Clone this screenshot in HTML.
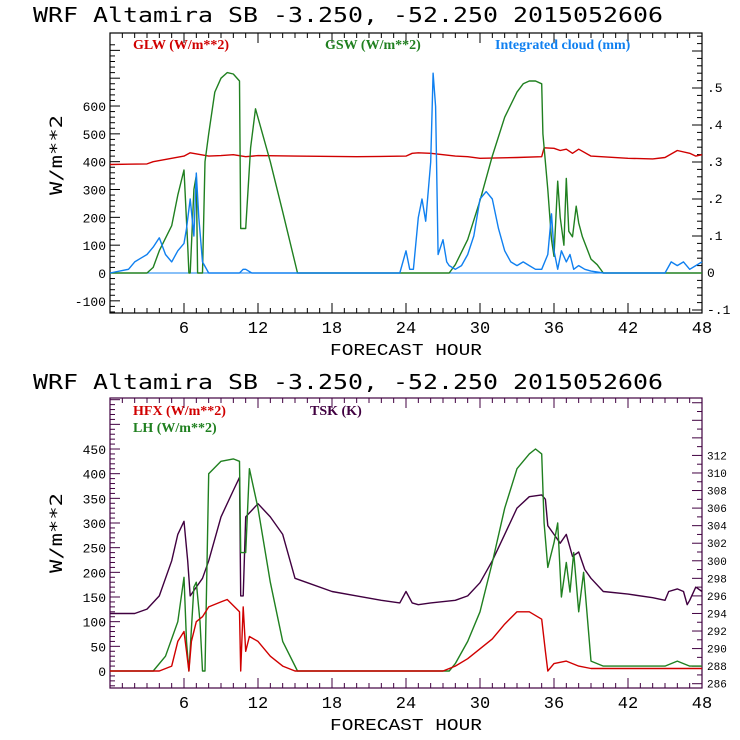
<!DOCTYPE html>
<html><head><meta charset="utf-8"><style>
html,body{margin:0;padding:0;background:#fff}
svg{display:block}
text{font-family:"Liberation Mono",monospace}
</style></head><body>
<svg id="chart" width="740" height="740" viewBox="0 0 740 740" xmlns="http://www.w3.org/2000/svg"></svg>
<script>
// ---------- data ----------
const xTicks=[6,12,18,24,30,36,42,48];
const topLeftTicks=[-100,0,100,200,300,400,500,600];
const topRightTicks=[-0.1,0,0.1,0.2,0.3,0.4,0.5];
const topRightLabels=["-.1","0",".1",".2",".3",".4",".5"];
const botLeftTicks=[0,50,100,150,200,250,300,350,400,450];
const botRightTicks=[286,288,290,292,294,296,298,300,302,304,306,308,310,312];

const glwHours=[0,3,3.5,6,6.5,8,9,10,11,12,15,20,24,24.5,25,26,27,28,29,30,33,35,35.2,36,36.5,37,37.5,38,39,42,44,45,46,47,47.5,48];
const glwVals=[390,392,400,420,432,420,422,425,418,422,420,418,420,430,432,430,425,420,418,412,415,418,450,448,440,445,430,445,420,412,410,415,440,430,420,425];

const gswHours=[0,3,3.5,4,5,5.5,6,6.3,6.4,6.5,6.8,7,7.1,7.5,7.7,8,8.5,9,9.5,10,10.5,10.6,11,11.4,11.8,13,14,15.2,27.5,28,29,30,31,32,33,33.5,34,34.5,35,35.1,35.5,35.8,36,36.3,36.5,36.8,37,37.2,37.5,37.8,38,38.3,39,39.5,40,48];
const gswVals=[0,0,20,80,170,280,370,100,0,0,300,350,0,0,400,500,650,700,720,715,690,160,160,450,590,400,220,0,0,30,120,260,420,560,650,680,690,690,680,500,300,120,60,330,200,100,340,150,130,240,180,130,50,30,0,0];

const cloudHours=[0,1.5,2,2.5,3,3.5,4,4.5,5,5.5,6,6.2,6.5,6.8,7,7.2,7.5,8,10.5,10.8,11,11.5,23.5,24,24.3,24.6,25,25.3,25.6,26,26.2,26.4,26.6,27,27.3,27.5,28,28.5,29,29.5,30,30.5,31,31.5,32,32.5,33,33.5,34,34.5,35,35.5,35.8,36,36.3,36.6,37,37.3,37.6,38,38.5,39,40,45,45.5,46,46.5,47,47.5,48];
const cloudVals=[0,0.01,0.03,0.04,0.05,0.07,0.095,0.05,0.03,0.06,0.08,0.12,0.2,0.1,0.27,0.15,0.03,0,0,0.01,0.01,0,0,0.06,0.01,0.01,0.15,0.2,0.14,0.3,0.54,0.45,0.05,0.09,0.03,0.02,0.01,0.02,0.05,0.1,0.2,0.22,0.2,0.12,0.06,0.03,0.02,0.03,0.02,0.01,0.01,0.05,0.16,0.06,0.01,0.06,0.03,0.05,0.01,0.02,0.01,0.005,0,0,0.03,0.02,0.03,0.01,0.02,0.03];

const hfxHours=[0,4,5,5.5,6,6.2,6.4,6.6,7,7.5,8,9,9.5,10.5,10.6,10.8,11,11.3,12,13,14,15,27,28,29,30,31,32,33,34,35,35.3,35.5,36,37,38,39,48];
const hfxVals=[0,0,10,60,80,40,0,60,100,110,130,140,145,120,0,130,40,70,60,30,10,0,0,10,25,45,65,95,120,120,105,40,0,15,20,10,5,5];

const lhHours=[0,3.5,4.5,5.5,6,6.2,6.4,6.8,7,7.3,7.5,7.7,8,9,10,10.5,10.6,11,11.3,12,13,14,15.2,27.5,28,29,30,31,32,33,34,34.5,35,35.2,35.5,36,36.3,36.6,37,37.3,37.6,38,38.4,39,40,45,46,46.5,47,48];
const lhVals=[0,0,30,100,190,60,0,170,180,100,0,0,400,425,430,425,240,240,410,330,180,60,0,0,15,60,120,220,330,410,440,450,440,300,210,260,300,150,220,160,240,120,200,20,10,10,20,15,10,10];

const tskHours=[0,2,3,4,5,5.5,6,6.3,6.5,7,7.5,8,9,10,10.5,10.6,10.8,11,12,13,14,15,16,18,20,22,23.5,24,24.5,25,26,28,29,30,31,32,33,34,35,35.3,35.5,36,36.5,37,37.5,38,38.5,39,40,42,44,45,45.3,46,46.5,46.8,47,47.5,48];
const tskVals=[294,294,294.5,296,300,303,304.5,300,296,297,298,300,305,308,309.5,296,296,305,306.5,305,303,298,297.5,296.5,296,295.5,295.2,296.5,295.2,295,295.2,295.5,296,297.5,300,303,306,307.3,307.5,307,304,303,302,303,300.5,301,299,298,296.5,296.2,295.8,295.5,296.5,296.8,296.5,295,295.5,297,296.5];

// ---------- drawing ----------
const svg=document.getElementById('chart');
const NS='http://www.w3.org/2000/svg';
function mk(tag,attrs,parent){const e=document.createElementNS(NS,tag);for(const k in attrs)e.setAttribute(k,attrs[k]);(parent||svg).appendChild(e);return e;}

function panel(o){
  const g=mk('g',{});
  
  
  const X=h=>o.x0+(h/48)*(o.x1-o.x0);
  const t=mk('text',{x:33,y:o.titleY,'font-size':20,fill:'#000',textLength:630,lengthAdjust:'spacingAndGlyphs',style:'font-family:"DejaVu Sans Mono",monospace;font-weight:200'},g);
  t.textContent='WRF   Altamira   SB   -3.250, -52.250   2015052606';
  
  
  const fr=mk('rect',{x:o.x0,y:o.y0,width:o.x1-o.x0,height:o.y1-o.y0,fill:'none',stroke:o.frame,'stroke-width':1.2},g);
  
  
  for(let h=1;h<48;h++){
    const maj=h%6===0, L=maj?10:5, x=X(h);
    mk('line',{x1:x,x2:x,y1:o.y1,y2:o.y1-L,stroke:o.frame},g);
    mk('line',{x1:x,x2:x,y1:o.y0,y2:o.y0+L,stroke:o.frame},g);
  }
  xTicks.forEach(h=>{
    const tx=mk('text',{x:X(h),y:o.y1+20,'font-size':17,'text-anchor':'middle',fill:'#000'},g);
    tx.textContent=String(h);
    
    
  });
  const xt=mk('text',{x:(o.x0+o.x1)/2,y:o.y1+42,'font-size':17,'text-anchor':'middle',fill:'#000',textLength:152,lengthAdjust:'spacingAndGlyphs'},g);
  xt.textContent='FORECAST HOUR';
  
  
  const YL=v=>o.ly0+(v-o.lv0)*o.lk;
  for(let v=o.lMin;v<=o.lMax+1e-9;v+=o.lMinor){
    const y=YL(v); if(y<o.y0||y>o.y1)continue;
    const maj=Math.abs(v/o.lMajor-Math.round(v/o.lMajor))<1e-6;
    mk('line',{x1:o.x0,x2:o.x0+(maj?10:5),y1:y,y2:y,stroke:o.frame},g);
  }
  o.lTicks.forEach(v=>{
    const tx=mk('text',{x:o.x0-4,y:YL(v)+5,'font-size':13,'text-anchor':'end',fill:'#000'},g);
    tx.textContent=String(v);
    
    
  });
  const yt=mk('text',{x:0,y:0,'font-size':17,'text-anchor':'middle',fill:'#000',transform:`translate(${o.x0-48},${(o.y0+o.y1)/2+o.ytOff}) rotate(-90)`,textLength:80,lengthAdjust:'spacingAndGlyphs',style:'font-family:"DejaVu Sans Mono",monospace;font-weight:200'},g);
  yt.textContent='W/m**2';
  
  
  const YR=v=>o.ry0+(v-o.rv0)*o.rk;
  for(let v=o.rMin;v<=o.rMax+1e-9;v+=o.rMinor){
    const y=YR(v); if(y<o.y0-0.5||y>o.y1+0.5)continue;
    const maj=Math.abs(v/o.rMajor-Math.round(v/o.rMajor))<1e-6;
    mk('line',{x1:o.x1,x2:o.x1-(maj?10:5),y1:y,y2:y,stroke:o.frame},g);
  }
  o.rTicks.forEach((v,i)=>{
    const tx=mk('text',{x:o.x1+5,y:YR(v)+4,'font-size':o.rFont,fill:'#000'},g);
    tx.textContent=o.rLabels?o.rLabels[i]:String(v);
    
    
  });
  if(o.zeroLine){mk('line',{x1:o.x0,x2:o.x1,y1:YL(0),y2:YL(0),stroke:'#1080f0','stroke-width':1},g);}
  o.series.forEach(s=>{
    const Y=s.axis==='r'?YR:YL;
    const pts=s.h.map((h,i)=>X(h).toFixed(1)+','+Y(s.v[i]).toFixed(1)).join(' ');
    const pl=mk('polyline',{points:pts,fill:'none',stroke:s.color,'stroke-width':1.4,'stroke-linejoin':'round'},g);
    
    
  });
  o.legend.forEach(l=>{
    const tx=mk('text',{x:l.x,y:l.y,'font-size':14,fill:l.color,style:'font-family:"Liberation Serif",serif;font-weight:bold'},g);
    tx.textContent=l.t;
    
    
  });
}

panel({name:'top-panel',titleY:22,x0:110,x1:702,y0:33,y1:313,frame:'#000',
  ly0:273,lv0:0,lk:-0.2783,lMin:-140,lMax:820,lMinor:20,lMajor:100,lTicks:topLeftTicks,ytOff:-18,
  ry0:273,rv0:0,rk:-370,rMin:-0.1,rMax:0.64,rMinor:0.02,rMajor:0.1,rTicks:topRightTicks,rLabels:topRightLabels,rFont:13,
  zeroLine:true,
  series:[
    {name:'glw-line',h:glwHours,v:glwVals,color:'#d00000',axis:'l'},
    {name:'gsw-line',h:gswHours,v:gswVals,color:'#208020',axis:'l'},
    {name:'cloud-line',h:cloudHours,v:cloudVals,color:'#1080f0',axis:'r'}],
  legend:[{t:'GLW (W/m**2)',x:133,y:49,color:'#d00000'},{t:'GSW (W/m**2)',x:325,y:49,color:'#208020'},{t:'Integrated cloud (mm)',x:495,y:49,color:'#1080f0'}]
});
panel({name:'bottom-panel',titleY:389,x0:110,x1:702,y0:398,y1:688,frame:'#400040',
  ly0:671,lv0:0,lk:-0.4933,lMin:-30,lMax:600,lMinor:10,lMajor:50,lTicks:botLeftTicks,ytOff:-10,
  ry0:683.7,rv0:286,rk:-8.78,rMin:286,rMax:320,rMinor:1,rMajor:2,rTicks:botRightTicks,rFont:11,
  zeroLine:false,
  series:[
    {name:'tsk-line',h:tskHours,v:tskVals,color:'#400040',axis:'r'},
    {name:'lh-line',h:lhHours,v:lhVals,color:'#208020',axis:'l'},
    {name:'hfx-line',h:hfxHours,v:hfxVals,color:'#d00000',axis:'l'}],
  legend:[{t:'HFX (W/m**2)',x:133,y:415,color:'#d00000'},{t:'LH  (W/m**2)',x:133,y:432,color:'#208020'},{t:'TSK (K)',x:310,y:415,color:'#400040'}]
});
</script>
</body></html>
